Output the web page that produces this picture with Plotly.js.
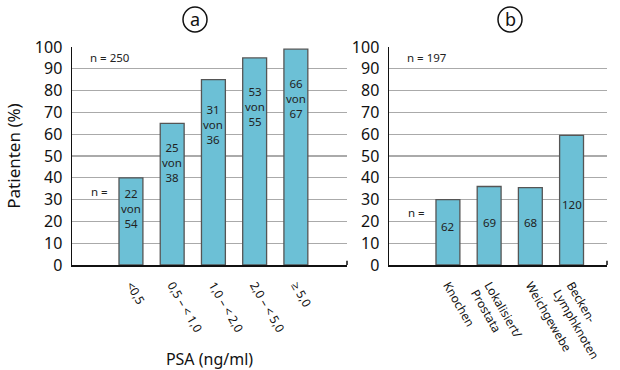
<!DOCTYPE html>
<html><head><meta charset="utf-8">
<script src="https://cdn.plot.ly/plotly-3.0.1.min.js"></script>
<style>html,body{margin:0;padding:0;background:#fff}#c{width:620px;height:370px}</style>
</head><body><div id="c"></div>
<script>
// Panel a: PSA categories
const psaCats = ['&lt;0,5', '0,5 – &lt; 1,0', '1,0 – &lt; 2,0', '2,0 – &lt; 5,0', '≥ 5,0'];
const psaPct = [40, 65, 85, 95, 99];
const psaPos = [22, 25, 31, 53, 66];
const psaTot = [54, 38, 36, 55, 67];
// Panel b: localisation
const locCats = ['Knochen', 'Lokalisiert/<br>Prostata', 'Weichgewebe', 'Becken-<br>Lymphknoten'];
const locPct = [30, 36, 35.5, 59.5];
const locN = [62, 69, 68, 120];
const yTicks = [0,10,20,30,40,50,60,70,80,90,100];

const FONT = 'Noto Sans, Open Sans, sans-serif';
const barStyle = {color: '#6cc0d6', line: {color: '#555555', width: 1.3}};

const traces = [
  {type: 'bar', x: psaCats, y: psaPct, xaxis: 'x', yaxis: 'y', marker: barStyle, hoverinfo: 'none'},
  {type: 'bar', x: locCats, y: locPct, xaxis: 'x2', yaxis: 'y2', marker: barStyle, hoverinfo: 'none'}
];

const small = {family: FONT, size: 11.5, color: '#222'};
const annotations = [];
psaCats.forEach((c, i) => {
  annotations.push({xref: 'x', yref: 'y', x: c, y: psaPct[i] * 0.85 - 8, text: psaPos[i] + '<br>von<br>' + psaTot[i],
    showarrow: false, font: small, align: 'center', xanchor: 'center'});
});
locCats.forEach((c, i) => {
  annotations.push({xref: 'x2', yref: 'y2', x: c, y: locPct[i] * 0.35 + 7, text: String(locN[i]),
    showarrow: false, font: small, xanchor: 'center'});
});
annotations.push(
  {xref: 'x domain', yref: 'y', x: 0.137, y: 95, text: 'n = 250', showarrow: false, font: small, xanchor: 'center'},
  {xref: 'x domain', yref: 'y', x: 0.10, y: 33.5, text: 'n =', showarrow: false, font: small, xanchor: 'center'},
  {xref: 'x2 domain', yref: 'y2', x: 0.175, y: 95, text: 'n = 197', showarrow: false, font: small, xanchor: 'center'},
  {xref: 'x2 domain', yref: 'y2', x: 0.128, y: 24, text: 'n =', showarrow: false, font: small, xanchor: 'center'},
  {xref: 'paper', yref: 'paper', x: 195/620, y: 1 - 19/370, text: 'a', showarrow: false, font: {family: FONT, size: 18, color: '#111'}, xanchor: 'center', yanchor: 'middle'},
  {xref: 'paper', yref: 'paper', x: 510/620, y: 1 - 19/370, text: 'b', showarrow: false, font: {family: FONT, size: 18, color: '#111'}, xanchor: 'center', yanchor: 'middle'}
);

const shapes = [
  {type: 'circle', layer: 'above', xref: 'paper', yref: 'paper', x0: 183/620, x1: 207/620, y0: 1 - 32/370, y1: 1 - 7/370, line: {color: '#111', width: 1.5}},
  {type: 'circle', layer: 'above', xref: 'paper', yref: 'paper', x0: 498/620, x1: 522/620, y0: 1 - 32/370, y1: 1 - 7/370, line: {color: '#111', width: 1.5}},
  {type: 'line', xref: 'x domain', yref: 'y', x0: 1, x1: 1, y0: 0, y1: 2, line: {color: '#111', width: 1.5}},
  {type: 'line', xref: 'x2 domain', yref: 'y2', x0: 1, x1: 1, y0: 0, y1: 2, line: {color: '#111', width: 1.5}}
];

const yCommon = {
  range: [0, 100], tickvals: yTicks, showgrid: true, gridcolor: '#aaaaaa', gridwidth: 1.2,
  showline: true, linecolor: '#111', linewidth: 1.5, zeroline: false, ticks: '',
  tickfont: {family: FONT, size: 16, color: '#111'}, ticklabelstandoff: 5,
  domain: [1 - 265/370, 1 - 47/370]
};
const xCommon = {
  showline: true, linecolor: '#111', linewidth: 1.5, ticks: '', tickangle: 60, ticklabelstandoff: 7,
  tickfont: {family: FONT, size: 12, color: '#111'}, showgrid: false, zeroline: false
};

const layout = {
  width: 620, height: 370, margin: {l: 0, r: 0, t: 0, b: 0},
  paper_bgcolor: '#fff', plot_bgcolor: '#fff', showlegend: false, bargap: 0.42,
  font: {family: FONT, color: '#111'},
  xaxis: Object.assign({}, xCommon, {domain: [72/620, 347/620], anchor: 'y', range: [-1.43, 5.24],
    title: {text: 'PSA (ng/ml)', font: {family: FONT, size: 16, color: '#111'}, standoff: 20}}),
  yaxis: Object.assign({}, yCommon, {anchor: 'x',
    title: {text: 'Patienten (%)', font: {family: FONT, size: 17, color: '#111'}, standoff: 10}}),
  xaxis2: Object.assign({}, xCommon, {domain: [389/620, 607/620], anchor: 'y2', range: [-1.43, 3.86]}),
  yaxis2: Object.assign({}, yCommon, {anchor: 'x2'}),
  annotations: annotations, shapes: shapes
};

Plotly.newPlot('c', traces, layout, {staticPlot: true, displayModeBar: false});
</script></body></html>
